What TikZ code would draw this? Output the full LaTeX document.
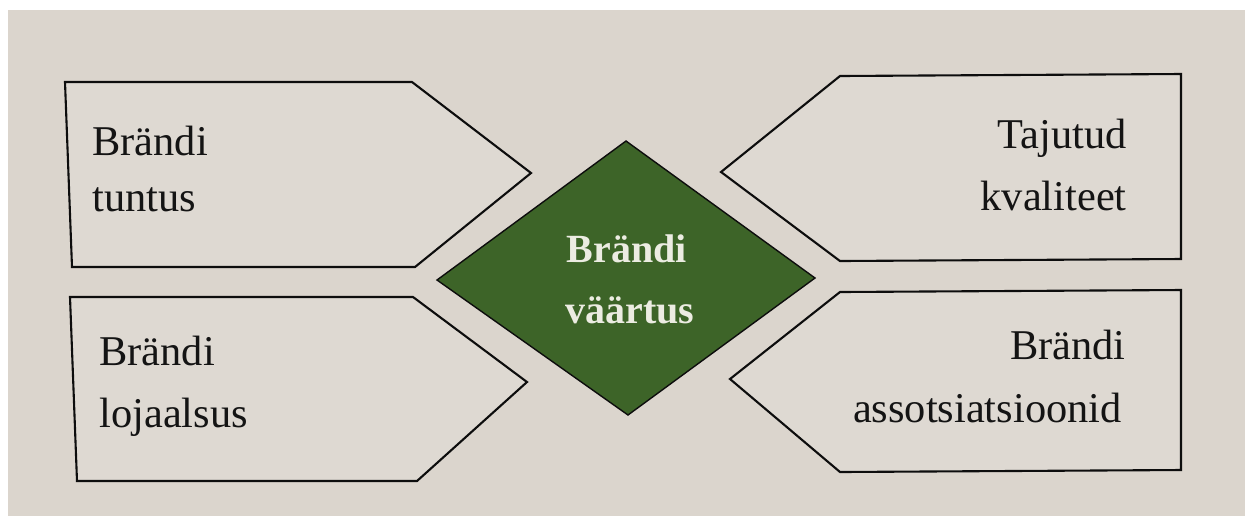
\documentclass[tikz,border=0pt]{standalone}
\usepackage{fontspec}
\setmainfont{Liberation Serif}
\definecolor{paper}{RGB}{219,213,205}
\definecolor{boxfill}{RGB}{222,217,210}
\definecolor{dgreen}{RGB}{61,100,40}
\definecolor{lighttext}{RGB}{236,236,226}
\begin{document}
\begin{tikzpicture}[x=0.5pt,y=-0.5pt,
  tag/.style={draw=black!95, line width=1.05pt, fill=boxfill, line join=miter},
  gem/.style={draw=black!95, line width=0.7pt, fill=dgreen, line join=miter},
  lbl/.style={font=\fontsize{21.2}{25}\selectfont, text=black!92, inner sep=0pt},
  dlbl/.style={font=\fontsize{20}{24}\selectfont\bfseries, text=lighttext, inner sep=0pt}]
\fill[white] (0,0) rectangle (1245,516);
\fill[paper] (8,10) rectangle (1245,516);
\useasboundingbox (0,0) rectangle (1245,516);
% boxes
\draw[tag] (65,82) -- (412,82) -- (531,173) -- (415,267) -- (72,267) -- cycle;
\draw[tag] (70,297) -- (413,297) -- (527,382) -- (417,481) -- (77,481) -- cycle;
\draw[tag] (840,76) -- (1181,74) -- (1181,259) -- (840,261) -- (721,172) -- cycle;
\draw[tag] (840,292) -- (1181,290) -- (1181,470) -- (840,472) -- (730,379) -- cycle;
% diamond
\draw[gem] (626,141) -- (815,278) -- (628,415) -- (437,280) -- cycle;
% labels
\node[lbl, anchor=base west] (tl1) at (92,155) {Brändi};
\node[lbl, anchor=base west] (tl2) at (92,211) {tuntus};
\node[lbl, anchor=base west] (bl1) at (99,365) {Brändi};
\node[lbl, anchor=base west] (bl2) at (99,427) {lojaalsus};
\node[lbl, anchor=base east] (tr1) at (1127,148) {Tajutud};
\node[lbl, anchor=base east] (tr2) at (1127,210) {kvaliteet};
\node[lbl, anchor=base east] (br1) at (1126,359) {Brändi};
\node[lbl, anchor=base east] (br2) at (1122,422) {assotsiatsioonid};
\node[dlbl, anchor=base] (c1) at (627,262) {Brändi};
\node[dlbl, anchor=base] (c2) at (630,323) {väärtus};
\end{tikzpicture}
\end{document}
